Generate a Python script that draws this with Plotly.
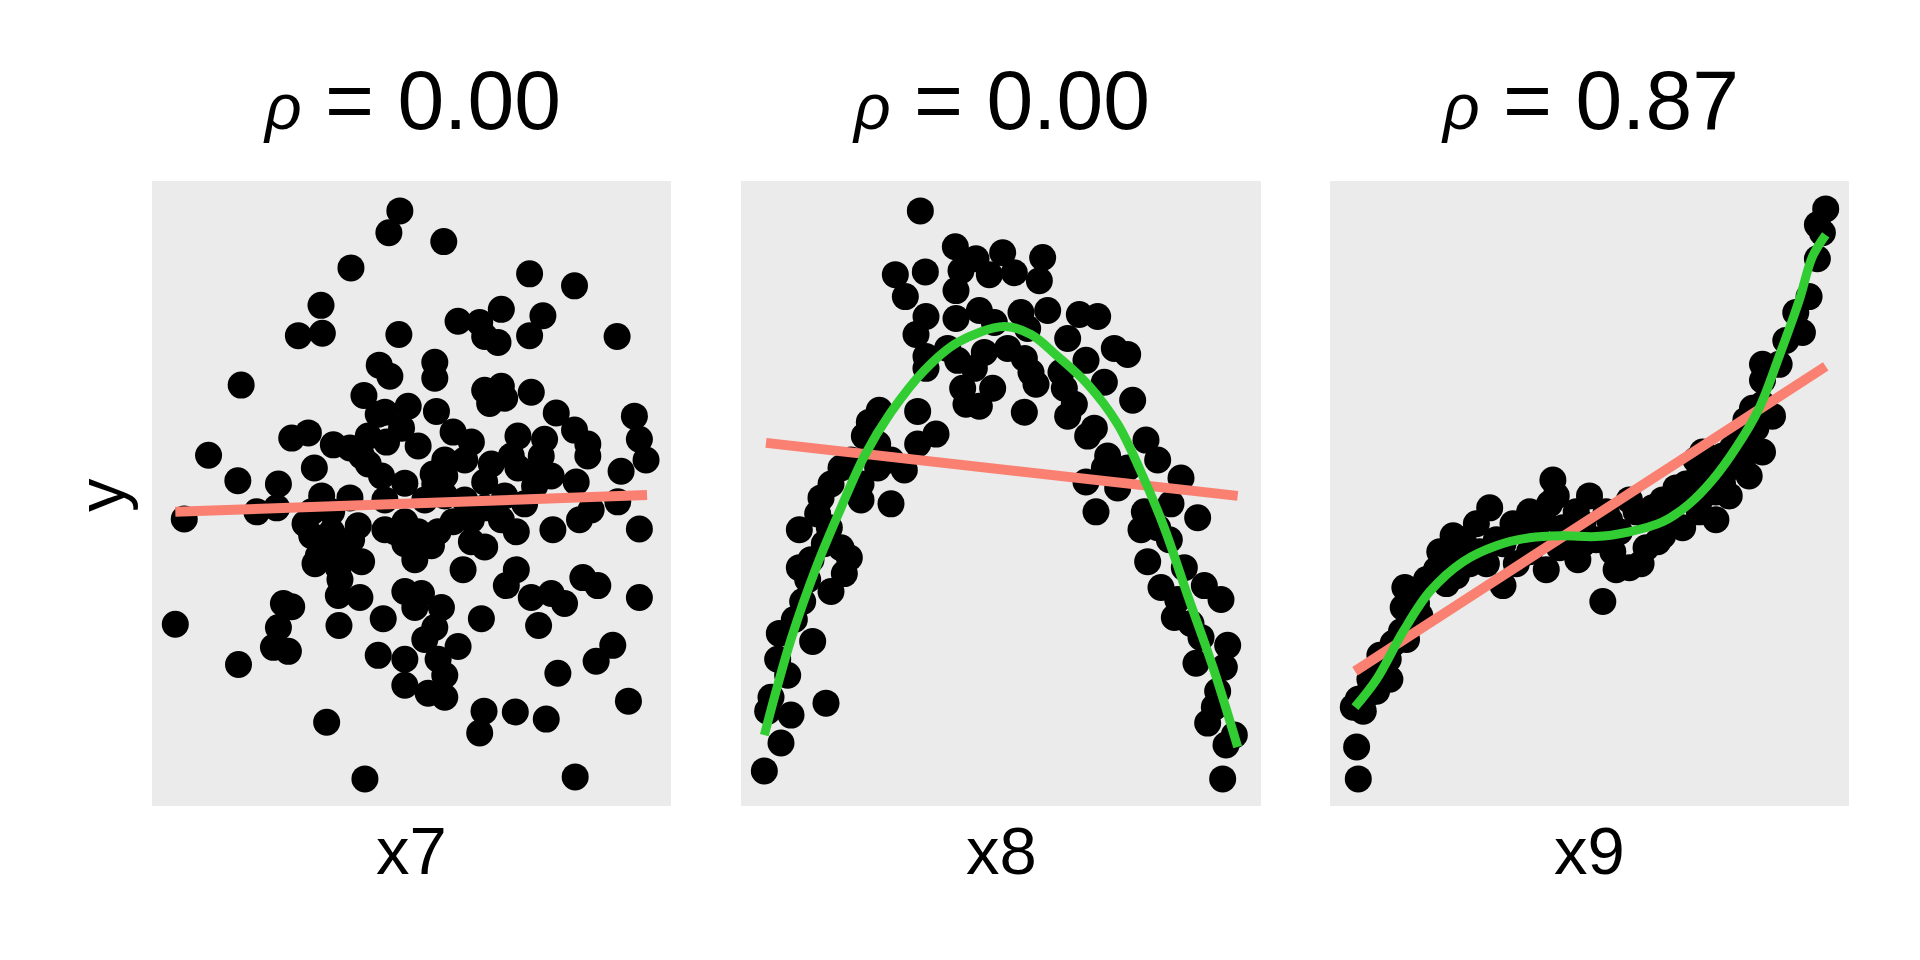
import plotly.graph_objects as go

# values (arbitrary units, panel spans 0-156 by 0-157)
x7 = [74.5, 71.2, 87.7, 59.8, 113.5, 127.0, 50.8, 44.0, 51.2, 74.2, 105.0, 92.0, 98.5, 100.0,
      104.0, 117.5, 113.5, 139.8, 26.8, 68.3, 71.5, 85.0, 85.0, 63.7, 100.0, 105.0, 114.0, 101.5,
      106.0, 77.0, 70.0, 68.0, 85.5, 121.5, 145.0, 127.0, 131.0, 146.5, 110.0, 118.0, 90.5, 96.0,
      42.0, 47.0, 54.5, 59.5, 70.5, 80.0, 65.0, 69.0, 17.0, 25.8, 38.0, 48.8, 76.0, 84.5, 88.0,
      100.0, 108.0, 117.0, 131.0, 148.5, 141.0, 120.0, 127.5, 115.0, 106.0, 102.0, 110.0, 9.7,
      31.5, 37.5, 51.0, 59.5, 48.0, 54.0, 70.0, 88.0, 94.0, 100.0, 112.0, 140.0, 132.0, 128.5,
      62.0, 70.0, 76.0, 86.0, 90.5, 48.0, 54.0, 52.0, 57.0, 63.0, 49.0, 56.0, 79.0, 76.0, 84.0,
      96.0, 100.0, 109.5, 120.5, 146.5, 93.5, 109.5, 106.5, 129.5, 134.0, 114.0, 120.0, 124.0,
      146.5, 56.0, 62.5, 56.5, 76.0, 81.0, 79.0, 87.0, 42.0, 39.5, 38.0, 36.5, 41.0, 7.0, 56.2,
      69.5, 85.0, 99.0, 116.2, 82.0, 92.0, 86.0, 76.0, 68.0, 88.0, 76.0, 83.0, 88.0, 26.0, 122.0,
      133.5, 138.5, 143.2, 99.8, 98.5, 109.2, 118.5, 52.5, 64.0, 127.2,
      46.0, 50.0, 60.0, 73.0, 80.0, 82.0, 96.0, 105.0, 115.0, 88.0, 94.0, 85.0, 65.0, 75.0, 63.0]
y7 = [149.5, 144.0, 141.8, 135.2, 133.7, 130.7, 125.8, 118.2, 118.8, 118.5, 124.8, 121.8, 121.5,
      118.0, 116.5, 123.2, 118.2, 118.0, 105.8, 110.8, 108.0, 111.5, 107.5, 103.2, 104.5, 105.5,
      104.0, 101.2, 102.5, 100.5, 99.0, 98.5, 99.2, 98.8, 98.0, 94.5, 91.0, 92.2, 93.0, 92.2, 94.0,
      91.5, 92.5, 93.8, 90.8, 90.0, 91.5, 90.5, 86.0, 83.0, 88.2, 81.8, 81.0, 85.0, 81.2, 83.5,
      83.0, 81.5, 88.0, 88.0, 88.0, 87.0, 84.2, 83.0, 81.5, 80.5, 78.0, 86.0, 85.0, 72.2, 74.0,
      75.0, 78.0, 77.5, 74.0, 74.0, 77.0, 78.0, 77.0, 75.0, 76.0, 76.5, 74.5, 72.0, 70.5, 69.5,
      71.5, 69.0, 71.5, 68.0, 69.0, 65.0, 64.0, 61.5, 61.0, 60.0, 62.0, 66.0, 65.5, 66.5, 65.2,
      69.0, 69.5, 69.7, 59.5, 59.5, 55.5, 57.5, 55.5, 52.5, 53.5, 51.0, 52.5, 53.0, 52.5, 57.0,
      54.0, 53.5, 50.0, 50.0, 50.2, 51.0, 45.0, 40.0, 39.0, 45.8, 45.5, 47.2, 45.0, 47.2, 45.5,
      42.0, 40.2, 37.0, 37.0, 38.0, 33.0, 30.5, 28.5, 27.5, 35.7, 33.5, 36.5, 40.5, 26.5, 24.0,
      18.5, 23.8, 22.0, 21.2, 7.0, 7.5,
      71.0, 63.0, 67.0, 69.0, 69.0, 77.0, 72.0, 72.0, 84.0, 87.0, 87.0, 81.0, 93.0, 95.0, 88.0]
lin7_x = [7.0, 148.8]
lin7_y = [74.0, 78.2]

x8 = [53.8, 64.3, 70.5, 78.5, 90.5, 46.3, 55.3, 66.0, 74.5, 82.0, 89.5, 64.5, 49.3, 71.5, 64.5,
      55.5, 92.0, 84.0, 101.5, 107.0, 52.5, 76.0, 86.0, 98.0, 112.0, 116.0, 55.5, 65.0, 73.0, 85.0,
      103.5, 55.5, 87.0, 66.5, 75.5, 88.5, 97.0, 109.0, 117.5, 67.5, 71.5, 85.0, 98.0, 106.0, 104.0,
      53.0, 41.5, 38.5, 37.0, 41.0, 58.5, 53.0, 121.5, 125.0, 110.0, 109.0, 113.0, 103.5, 49.0,
      41.0, 30.0, 27.0, 36.0, 45.0, 106.5, 132.0, 129.0, 137.0, 121.0, 120.0, 128.5, 23.0, 17.5,
      26.5, 32.5, 31.0, 27.0, 17.5, 21.0, 18.5, 122.0, 126.0, 133.0, 139.0, 144.0, 130.0, 11.5,
      21.5, 14.0, 9.0, 15.0, 12.0, 25.5, 7.0, 138.0, 146.0, 136.5, 145.0, 143.0, 140.0, 148.0,
      145.5, 144.5, 24.0, 30.0, 25.0, 33.0, 36.0, 45.0, 116.0, 125.0, 131.0, 135.0, 142.0, 8.0,
      11.0, 16.0, 20.0, 62.0, 80.0, 96.0, 100.0, 70.0]
y8 = [149.5, 140.5, 137.5, 139.0, 137.8, 133.5, 134.2, 134.5, 133.5, 134.0, 132.0, 129.5, 128.0,
      124.5, 122.5, 123.0, 124.5, 124.0, 123.5, 123.0, 118.5, 121.5, 120.0, 117.5, 115.0, 113.5,
      113.0, 112.0, 114.0, 112.5, 112.0, 110.0, 109.0, 105.0, 105.0, 106.0, 105.0, 106.5, 102.0,
      101.0, 100.5, 99.0, 98.0, 95.0, 93.0, 99.2, 99.5, 96.5, 93.0, 91.0, 93.5, 91.0, 92.0, 87.0,
      88.0, 85.0, 80.0, 81.5, 84.5, 85.0, 85.0, 81.0, 77.0, 76.0, 74.0, 82.5, 76.0, 72.5, 74.0,
      69.5, 67.0, 73.5, 69.5, 70.0, 62.5, 58.5, 54.0, 60.0, 62.0, 51.5, 61.5, 55.0, 60.0, 55.5,
      52.0, 47.5, 43.5, 41.5, 33.0, 27.5, 23.0, 16.0, 26.0, 9.0, 42.5, 40.5, 36.0, 35.0, 29.0,
      21.0, 18.0, 15.5, 7.0, 77.5, 65.0, 66.0, 87.0, 81.0, 87.0, 85.0, 70.0, 52.0, 46.0, 25.0,
      24.0, 37.0, 47.0, 57.0, 115.0, 115.0, 109.0, 101.0, 110.0]
lin8_x = [7.5, 149.0]
lin8_y = [91.3, 78.0]
fit8_x = [7.0, 15.0, 23.0, 30.0, 37.0, 45.0, 55.0, 65.0, 79.0, 87.0, 95.0, 104.0, 113.0, 120.0,
          127.0, 134.0, 142.0, 149.0]
fit8_y = [18.0, 42.0, 61.0, 75.0, 88.0, 99.0, 109.5, 116.5, 120.5, 118.5, 113.0, 106.0, 96.0,
          84.0, 70.0, 53.0, 34.0, 15.0]

x9 = [149.0, 146.5, 146.5, 144.0, 142.0, 137.0, 135.0, 130.0, 130.0, 127.0, 133.0, 130.0, 126.0,
      120.0, 116.0, 116.0, 110.0, 112.0, 107.0, 106.0, 98.5, 93.5, 90.0, 86.0, 82.0, 78.0, 67.0,
      68.0, 74.0, 72.0, 74.5, 65.0, 60.0, 60.0, 55.0, 52.0, 48.0, 44.0, 40.0, 37.0, 36.0, 32.0,
      22.5, 22.0, 21.5, 17.5, 15.0, 14.0, 8.5, 7.0, 8.0, 8.5, 100.0, 95.0, 83.0, 120.0, 90.0,
      105.0, 115.0, 123.0, 128.0, 56.0, 47.0, 42.0, 29.0, 26.0, 23.0, 12.0, 18.0, 62.0, 69.0,
      80.0, 87.0, 102.0, 111.0, 118.0, 124.0, 50.0, 33.0, 140.0, 148.0, 130.0, 125.0,
      35.0, 38.0, 45.0, 52.0, 58.0, 64.0, 70.0, 76.0, 84.0, 92.0, 97.0, 104.0, 110.0, 113.0,
      118.0, 121.0, 126.0, 27.0, 25.0, 19.0, 16.0, 11.0, 10.0, 13.0, 66.0, 76.0, 85.0, 95.0,
      100.0, 112.0]
y9 = [150.0, 146.0, 137.5, 128.0, 119.0, 117.0, 111.0, 111.0, 107.0, 100.0, 98.0, 89.0, 83.0,
      78.0, 72.0, 79.0, 87.0, 89.0, 81.0, 70.0, 66.5, 61.0, 60.0, 59.5, 51.5, 78.0, 82.0, 78.0,
      74.0, 69.0, 62.0, 59.5, 64.0, 74.0, 71.0, 55.5, 75.0, 71.0, 67.0, 68.0, 62.0, 59.5, 55.0,
      50.0, 44.0, 37.0, 38.0, 29.0, 27.0, 25.0, 15.0, 7.0, 77.0, 73.0, 74.0, 85.0, 77.0, 77.0,
      87.0, 92.0, 95.0, 61.0, 61.0, 61.0, 57.0, 51.0, 42.0, 32.0, 32.0, 67.0, 65.0, 67.0, 69.0,
      72.0, 74.0, 81.0, 87.0, 67.0, 64.0, 124.0, 144.0, 101.0, 97.0,
      56.0, 58.0, 64.0, 66.0, 70.0, 72.0, 70.0, 71.0, 72.0, 74.0, 75.0, 80.0, 82.0, 85.0,
      88.0, 90.0, 92.0, 48.0, 54.0, 41.0, 35.0, 28.0, 24.0, 33.0, 76.0, 66.0, 64.0, 65.0,
      68.0, 78.0]
lin9_x = [7.5, 149.0]
lin9_y = [34.0, 110.5]
fit9_x = [7.5, 14.0, 22.0, 30.0, 40.0, 50.0, 60.0, 70.0, 80.0, 90.0, 100.0, 108.0, 115.0, 122.0,
          129.0, 135.0, 141.0, 145.0, 149.0]
fit9_y = [25.0, 32.0, 44.0, 54.0, 61.5, 65.5, 67.5, 68.0, 67.8, 69.0, 71.5, 76.0, 82.0, 90.0,
          100.0, 113.0, 127.0, 138.0, 143.5]

titles = ["0.00", "0.00", "0.87"]
xlabels = ["x7", "x8", "x9"]

# the page body keeps an 8px margin, so the figure is 1904x944 starting at (8, 8)
W, H, OFF = 1904, 944, 8


def fx(px):
    return (px - OFF) / W


def fy(py):
    return 1 - (py - OFF) / H


panels = [(x7, y7, lin7_x, lin7_y, None, None),
          (x8, y8, lin8_x, lin8_y, fit8_x, fit8_y),
          (x9, y9, lin9_x, lin9_y, fit9_x, fit9_y)]
xdomains = [[fx(152), fx(671)], [fx(741), fx(1261)], [fx(1330), fx(1849)]]
ydomain = [fy(806), fy(181)]

fig = go.Figure()
annotations = []
for i, (px, py, lx, ly, cx_, cy_) in enumerate(panels):
    n = "" if i == 0 else str(i + 1)
    fig.add_trace(go.Scatter(x=px, y=py, mode="markers", xaxis="x" + n, yaxis="y" + n,
                             marker=dict(size=27, color="black"), showlegend=False))
    fig.add_trace(go.Scatter(x=lx, y=ly, mode="lines", xaxis="x" + n, yaxis="y" + n,
                             line=dict(color="#FA8072", width=10), showlegend=False))
    if cx_ is not None:
        fig.add_trace(go.Scatter(x=cx_, y=cy_, mode="lines", xaxis="x" + n, yaxis="y" + n,
                                 line=dict(color="#32CD32", width=9, shape="spline"),
                                 showlegend=False))
    ax = dict(domain=xdomains[i], range=[0, 156], showgrid=False, zeroline=False,
              showticklabels=False, ticks="", fixedrange=True)
    ay = dict(domain=ydomain, range=[0.2, 157], showgrid=False, zeroline=False,
              showticklabels=False, ticks="", fixedrange=True)
    if i > 0:
        ay["anchor"] = "x" + n
        ax["anchor"] = "y" + n
    fig.update_layout({"xaxis" + n: ax, "yaxis" + n: ay})
    cx = sum(xdomains[i]) / 2
    annotations.append(dict(
        text='<span style="font-size:64px"><i>ρ</i></span> = ' + titles[i],
        x=cx, y=fy(100), xref="paper", yref="paper", showarrow=False,
        xanchor="center", yanchor="middle", font=dict(size=84, color="black")))
    annotations.append(dict(
        text=xlabels[i], x=cx, y=fy(850), xref="paper", yref="paper",
        showarrow=False, xanchor="center", yanchor="middle",
        font=dict(size=67, color="black")))

annotations.append(dict(text="y", x=fx(100), y=fy(495), xref="paper", yref="paper",
                        showarrow=False, textangle=-90, xanchor="center", yanchor="middle",
                        font=dict(size=67, color="black")))

fig.update_layout(
    annotations=annotations,
    plot_bgcolor="#EBEBEB",
    paper_bgcolor="white",
    font=dict(family="Liberation Sans, Arial, sans-serif"),
    margin=dict(l=0, r=0, t=0, b=0),
    width=W, height=H,
)

fig.write_html("out.html")
